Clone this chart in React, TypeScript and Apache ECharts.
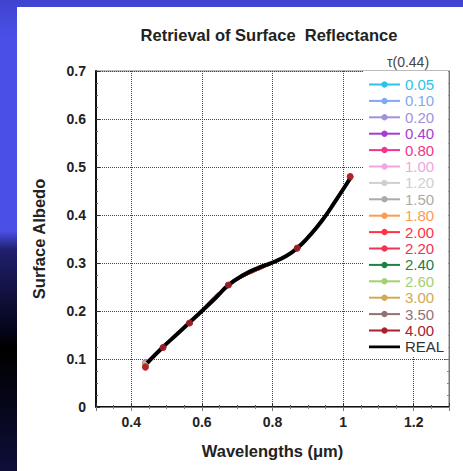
import React, { useEffect, useRef } from "react";
import * as echarts from "echarts";

const wavelengths = [0.44, 0.49, 0.565, 0.675, 0.87, 1.02];

const tauLabels = ["0.05", "0.10", "0.20", "0.40", "0.80", "1.00", "1.20", "1.50", "1.80", "2.00", "2.20", "2.40", "2.60", "3.00", "3.50", "4.00"];
const tauColors = ["#2cc3e8", "#82a8f0", "#a590de", "#a43ed2", "#f2348c", "#f0a6e0", "#cfcfcf", "#ababab", "#ff9a52", "#ff3345", "#f03455", "#218044", "#a3d072", "#d2aa55", "#937272", "#a8202e"];

const alb005 = [0.093, 0.124, 0.175, 0.254, 0.331, 0.479];
const alb010 = [0.093, 0.124, 0.175, 0.254, 0.331, 0.479];
const alb020 = [0.092, 0.124, 0.175, 0.254, 0.331, 0.479];
const alb040 = [0.092, 0.124, 0.175, 0.254, 0.331, 0.479];
const alb080 = [0.091, 0.124, 0.175, 0.254, 0.331, 0.479];
const alb100 = [0.091, 0.124, 0.175, 0.254, 0.331, 0.479];
const alb120 = [0.090, 0.124, 0.175, 0.254, 0.331, 0.479];
const alb150 = [0.090, 0.124, 0.175, 0.254, 0.331, 0.479];
const alb180 = [0.089, 0.124, 0.175, 0.254, 0.331, 0.480];
const alb200 = [0.088, 0.124, 0.175, 0.254, 0.331, 0.480];
const alb220 = [0.088, 0.124, 0.175, 0.254, 0.331, 0.480];
const alb240 = [0.087, 0.124, 0.175, 0.254, 0.331, 0.480];
const alb260 = [0.089, 0.124, 0.175, 0.254, 0.331, 0.480];
const alb300 = [0.086, 0.124, 0.175, 0.254, 0.331, 0.480];
const alb350 = [0.085, 0.124, 0.175, 0.254, 0.331, 0.480];
const alb400 = [0.083, 0.124, 0.175, 0.254, 0.331, 0.480];

const tauSeriesValues = [alb005, alb010, alb020, alb040, alb080, alb100, alb120, alb150, alb180, alb200, alb220, alb240, alb260, alb300, alb350, alb400];

const realWavelengths = [0.445, 0.49, 0.53, 0.565, 0.6, 0.64, 0.675, 0.72, 0.76, 0.8, 0.84, 0.87, 0.9, 0.94, 0.98, 1.02];
const realAlbedo = [0.092, 0.125, 0.152, 0.176, 0.2, 0.228, 0.254, 0.276, 0.29, 0.301, 0.315, 0.331, 0.353, 0.388, 0.431, 0.476];

const FONT = "'Liberation Sans', Arial, sans-serif";

export default function App() {
  const ref = useRef<HTMLDivElement>(null);
  useEffect(() => {
    if (!ref.current) return;
    const chart = echarts.init(ref.current, null, { renderer: "svg" });
    const tauSeries = tauLabels.map((name, i) => ({
      name,
      type: "line",
      z: 2,
      smooth: 0.35,
      symbol: "circle",
      symbolSize: 6,
      data: wavelengths.map((w, j) => [w, tauSeriesValues[i][j]]),
      lineStyle: { color: tauColors[i], width: 1.5 },
      itemStyle: { color: tauColors[i] },
    }));
    const frameAxis = {
      min: undefined as any,
      axisLine: { show: true, lineStyle: { color: "#777", width: 1 } },
      axisTick: { show: true, inside: true, length: 4, lineStyle: { color: "#777" } },
      minorTick: { show: true, splitNumber: 4, length: 2, lineStyle: { color: "#888" } },
      axisLabel: { show: false },
      splitLine: { show: false },
    };
    const option: any = {
      animation: false,
      backgroundColor: "transparent",
      textStyle: { fontFamily: FONT },
      graphic: [
        {
          type: "text",
          x: 269,
          y: 35,
          style: {
            text: "Retrieval of Surface  Reflectance",
            fill: "#222",
            font: `bold 16.5px ${FONT}`,
            textAlign: "center",
            textVerticalAlign: "middle",
          },
        },
        {
          type: "text",
          x: 408,
          y: 62,
          style: {
            text: "τ(0.44)",
            fill: "#444",
            font: `14px ${FONT}`,
            textAlign: "center",
            textVerticalAlign: "middle",
          },
        },
      ],
      grid: {
        left: 96,
        right: 14,
        top: 71,
        bottom: 64,
        show: true,
        borderColor: "#777",
        borderWidth: 1,
        backgroundColor: "#fff",
      },
      xAxis: [
        {
          type: "value",
          min: 0.3,
          max: 1.3,
          splitNumber: 5,
          name: "Wavelengths (μm)",
          nameLocation: "middle",
          nameGap: 35,
          nameTextStyle: { fontSize: 16.5, fontWeight: "bold", color: "#222" },
          axisLine: { show: true, lineStyle: { color: "#111", width: 2 } },
          axisTick: { show: true, inside: true, length: 4, lineStyle: { color: "#333" } },
          minorTick: { show: true, splitNumber: 4, length: 2, lineStyle: { color: "#555" } },
          axisLabel: {
            showMinLabel: false,
            showMaxLabel: false,
            fontSize: 14,
            fontWeight: "bold",
            color: "#222",
            margin: 8,
          },
          splitLine: { show: true, lineStyle: { color: "#444", type: "dotted", width: 1 } },
        },
        {
          ...frameAxis,
          type: "value",
          position: "top",
          min: 0.3,
          max: 1.3,
          splitNumber: 5,
        },
      ],
      yAxis: [
        {
          type: "value",
          min: 0,
          max: 0.7,
          interval: 0.1,
          name: "Surface Albedo",
          nameLocation: "middle",
          nameGap: 49,
          nameTextStyle: { fontSize: 16.5, fontWeight: "bold", color: "#222" },
          axisLine: { show: true, lineStyle: { color: "#111", width: 2 } },
          axisTick: { show: true, inside: true, length: 4, lineStyle: { color: "#333" } },
          minorTick: { show: true, splitNumber: 4, length: 2, lineStyle: { color: "#555" } },
          axisLabel: { fontSize: 14, fontWeight: "bold", color: "#222", margin: 10 },
          splitLine: { show: true, lineStyle: { color: "#444", type: "dotted", width: 1 } },
        },
        {
          ...frameAxis,
          type: "value",
          position: "right",
          min: 0,
          max: 0.7,
          interval: 0.1,
        },
      ],
      legend: {
        orient: "vertical",
        left: 363,
        top: 71,
        width: 81,
        padding: [6, 4, 2, 5],
        backgroundColor: "#fff",
        itemWidth: 31,
        itemHeight: 8,
        itemGap: 1.4,
        itemTextGap: 2,
        textStyle: { fontSize: 15 },
        data: [
          ...tauLabels.map((name, i) => ({ name, textStyle: { color: tauColors[i] } })),
          {
            name: "REAL",
            icon: "path://M0,0L0.01,0L0.01,0.01L0,0.01ZM0,2.6L31,2.6L31,5.4L0,5.4ZM0,7.99L0.01,7.99L0.01,8L0,8Z",
            itemStyle: { color: "#000" },
            textStyle: { color: "#333" },
          },
        ],
      },
      series: [
        ...tauSeries,
        {
          name: "REAL",
          type: "line",
          z: 3,
          smooth: true,
          symbol: "none",
          data: realWavelengths.map((w, j) => [w, realAlbedo[j]]),
          lineStyle: { color: "#000", width: 4 },
          itemStyle: { color: "#000" },
        },
        {
          name: "points",
          type: "scatter",
          z: 4,
          symbol: "circle",
          symbolSize: 7,
          data: wavelengths.map((w, j) => [w, alb400[j]]),
          itemStyle: { color: "#b52530" },
        },
      ],
    };
    chart.setOption(option);
    return () => chart.dispose();
  }, []);

  return (
    <div
      style={{
        position: "absolute",
        left: 0,
        top: 0,
        width: 463,
        height: 471,
        background:
          "linear-gradient(to bottom, #3f43d0 0%, #4a50e6 8%, #4a50e6 49%, #20206e 53%, #05051a 70%, #000 74%, #0e0e3a 100%)",
      }}
    >
      <div style={{ position: "absolute", left: 17, top: 7, right: 0, bottom: 0, background: "#fff" }} />
      <div ref={ref} style={{ position: "absolute", left: 0, top: 0, width: 463, height: 471 }} />
    </div>
  );
}
